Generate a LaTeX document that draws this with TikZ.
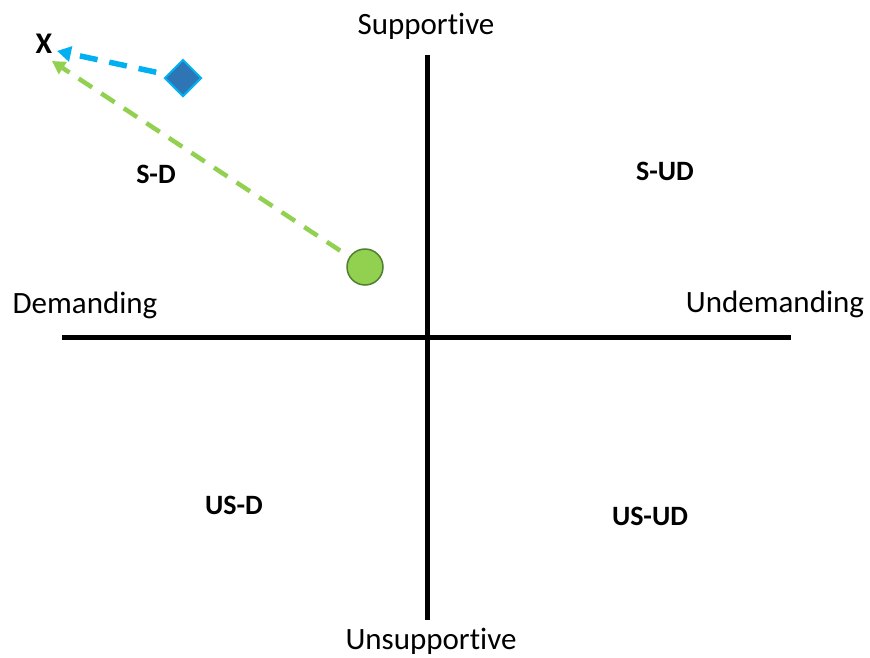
\documentclass[tikz,border=0pt]{standalone}
\usepackage{fontspec}
\setmainfont[Ligatures=NoCommon]{Carlito}
\usetikzlibrary{arrows.meta,shapes.geometric}
\definecolor{axisblack}{HTML}{000000}
\definecolor{lgreen}{HTML}{92D050}
\definecolor{dgreen}{HTML}{507E32}
\definecolor{lblue}{HTML}{00B0F0}
\definecolor{dblue}{HTML}{2E75B6}
\tikzset{
  axislabel/.style={inner sep=0pt, anchor=base, font=\fontsize{31}{37}\selectfont},
  quadlabel/.style={inner sep=0pt, anchor=base, font=\fontsize{28}{34}\selectfont\bfseries},
  axisline/.style={line width=5pt, axisblack},
  greenarrow/.style={lgreen, line width=4.5pt, dash pattern=on 16pt off 11pt, -{Triangle[length=13pt,width=14pt]}, shorten <=11pt},
  bluearrow/.style={lblue, line width=5.5pt, dash pattern=on 18pt off 12pt, -{Triangle[length=14pt,width=15pt]}, shorten <=11pt},
}
\begin{document}
\begin{tikzpicture}[x=1pt,y=-1pt]
\useasboundingbox (0,0) rectangle (870,657);
% axes
\coordinate (hl) at (62,337);
\coordinate (hr) at (791,337);
\coordinate (vt) at (427,55);
\coordinate (vb) at (427,620);
\draw[axisline] (hl) -- (hr);
\draw[axisline] (vt) -- (vb);
% axis labels
\node[axislabel] (sup) at (426,34) {Supportive};
\node[axislabel] (unsup) at (431,649) {Unsupportive};
\node[axislabel] (dem) at (85,313) {Demanding};
\node[axislabel] (undem) at (775,312) {Undemanding};
% quadrant labels
\node[quadlabel] (sd) at (156,183) {S-D};
\node[quadlabel] (sud) at (665,180) {S-UD};
\node[quadlabel] (usd) at (234,514) {US-D};
\node[quadlabel] (usud) at (650,525) {US-UD};
\node[quadlabel, font=\fontsize{30}{36}\selectfont\bfseries] (x) at (44,53) {X};
% markers
\node[circle, minimum size=36pt, inner sep=0pt, fill=lgreen, draw=dgreen, line width=1.5pt] (circ) at (365,267) {};
\node[diamond, minimum size=37pt, inner sep=0pt, fill=dblue, draw=lblue, line width=2pt] (dia) at (183,78) {};
% arrow tips
\coordinate (tipB) at (57,51);
\coordinate (tipG) at (52,61);
\draw[greenarrow] (circ) -- (tipG);
\draw[bluearrow] (dia) -- (tipB);
\end{tikzpicture}
\end{document}
